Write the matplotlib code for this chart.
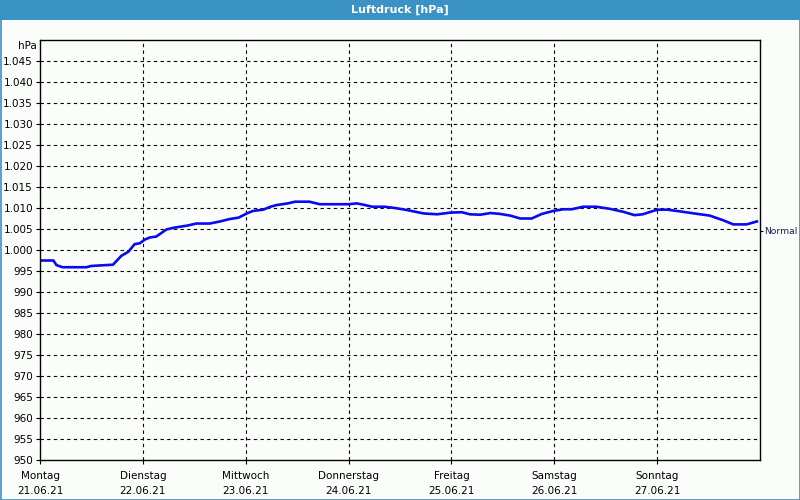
import matplotlib.pyplot as plt
from matplotlib.patches import Rectangle

# air pressure over one week (day offset from Monday 00:00, hPa)
days = [0, 0.13, 0.16, 0.22, 0.45, 0.50, 0.71, 0.79, 0.86, 0.92, 0.97, 1.02, 1.07,
        1.13, 1.20, 1.23, 1.30, 1.43, 1.52, 1.65, 1.75, 1.85, 1.93, 2.01, 2.07, 2.17,
        2.24, 2.30, 2.41, 2.48, 2.62, 2.67, 2.72, 3.00, 3.08, 3.16, 3.23, 3.35, 3.45,
        3.55, 3.63, 3.73, 3.86, 3.99, 4.10, 4.18, 4.28, 4.38, 4.47, 4.57, 4.67, 4.78,
        4.88, 4.99, 5.09, 5.17, 5.28, 5.41, 5.54, 5.67, 5.78, 5.86, 6.00, 6.10, 6.22,
        6.39, 6.51, 6.64, 6.74, 6.87, 6.97]
hpa = [997.5, 997.5, 996.4, 995.9, 995.9, 996.2, 996.5, 998.6, 999.6, 1001.4, 1001.6,
       1002.5, 1003.0, 1003.2, 1004.4, 1004.9, 1005.3, 1005.8, 1006.3, 1006.3, 1006.8,
       1007.4, 1007.7, 1008.7, 1009.3, 1009.6, 1010.3, 1010.7, 1011.1, 1011.5, 1011.5,
       1011.2, 1010.9, 1010.9, 1011.1, 1010.7, 1010.3, 1010.3, 1010.0, 1009.6, 1009.2,
       1008.7, 1008.5, 1008.9, 1009.0, 1008.5, 1008.4, 1008.8, 1008.6, 1008.2, 1007.5,
       1007.5, 1008.6, 1009.3, 1009.7, 1009.7, 1010.3, 1010.3, 1009.8, 1009.1, 1008.3,
       1008.5, 1009.6, 1009.6, 1009.2, 1008.6, 1008.2, 1007.1, 1006.1, 1006.1, 1006.8]

day_names = ['Montag', 'Dienstag', 'Mittwoch', 'Donnerstag', 'Freitag', 'Samstag', 'Sonntag']
dates = ['21.06.21', '22.06.21', '23.06.21', '24.06.21', '25.06.21', '26.06.21', '27.06.21']
y_ticks = list(range(950, 1050, 5))
normal = 1004.6

plt.rcParams['font.family'] = ['DejaVu Sans']
plt.rcParams['font.size'] = 7.5

bg = '#fbfdfb'
blue = '#3b92c4'

fig = plt.figure(figsize=(8, 5), dpi=100, facecolor=bg)

# title bar + frame
fig.patches.append(Rectangle((0, 1 - 20 / 500), 1, 20 / 500, transform=fig.transFigure,
                             facecolor=blue, edgecolor='none'))
fig.patches.append(Rectangle((0.5 / 800, 0.5 / 500), 1 - 1 / 800, 1 - 1 / 500,
                             transform=fig.transFigure, facecolor='none',
                             edgecolor=blue, linewidth=1.2))
fig.text(0.5, 1 - 10 / 500, 'Luftdruck [hPa]', color='white', fontweight='bold',
         ha='center', va='center', fontsize=8)

ax = fig.add_axes([40 / 800, 40 / 500, 720 / 800, 420 / 500])
ax.set_facecolor(bg)
ax.plot(days, hpa, color='#0a0af0', linewidth=1.9, solid_joinstyle='miter')

ax.set_xlim(0, 7)
ax.set_ylim(950, 1050)

ax.set_yticks(y_ticks)
ax.set_yticklabels([f'{v:,}'.replace(',', '.') for v in y_ticks])
ax.set_xticks(range(7))
ax.set_xticklabels([f'{d}\n{t}' for d, t in zip(day_names, dates)], linespacing=1.6)

ax.tick_params(axis='both', length=3, width=0.8, color='black', pad=2)
ax.tick_params(axis='x', pad=5)

for v in y_ticks[1:]:
    ax.axhline(v, color='black', linewidth=0.8, linestyle=(0, (3, 3)), zorder=0)
for d in range(1, 7):
    ax.axvline(d, color='black', linewidth=0.8, linestyle=(0, (3, 3)), zorder=0)

for s in ax.spines.values():
    s.set_color('black')
    s.set_linewidth(1)

fig.text(37 / 800, 1 - 46 / 500, 'hPa', ha='right', va='center', fontsize=7.5)

ax2 = ax.twinx()
ax2.set_ylim(950, 1050)
ax2.set_yticks([normal])
ax2.set_yticklabels(['Normal'], color='#1a1a4a', fontsize=6.6)
ax2.tick_params(axis='y', length=2.5, width=0.8, pad=0.5)
for s in ax2.spines.values():
    s.set_visible(False)

fig.savefig('out.png', dpi=100, facecolor=bg)
